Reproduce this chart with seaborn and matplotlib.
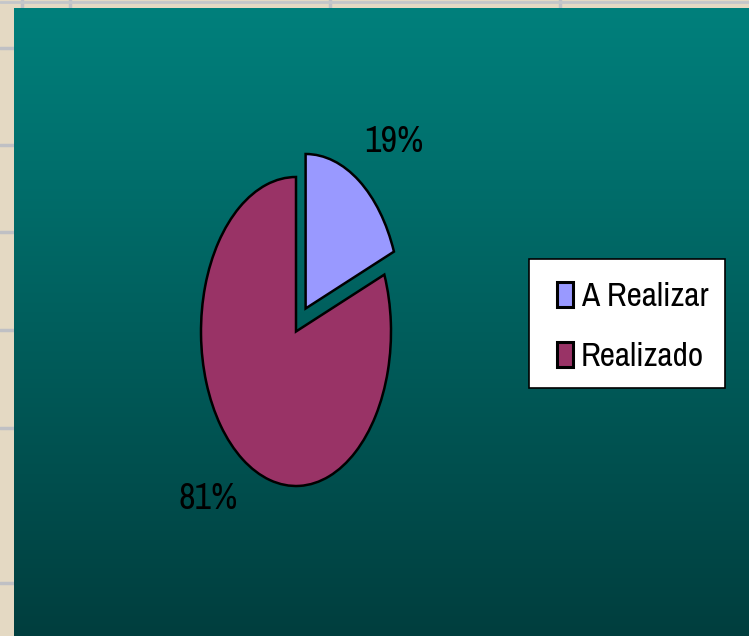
import numpy as np
import matplotlib
matplotlib.use("Agg")
import matplotlib.pyplot as plt
from matplotlib.patches import Rectangle
import seaborn as sns

categories = ["A Realizar", "Realizado"]
values = [19, 81]
pct_labels = ["19%", "81%"]
colors = ["#9999FF", "#993366"]

sns.set_theme(style="white")
plt.rcParams['font.family'] = ['Archivo Narrow', 'Roboto Condensed', 'Liberation Sans', 'DejaVu Sans']

W, H = 749, 636
fig = plt.figure(figsize=(W / 100, H / 100), dpi=100)
fig.patch.set_facecolor("#E4D9C3")

# textured border hints
bgb = fig.add_axes([0, 0, 1, 1])
bgb.set_xlim(0, W); bgb.set_ylim(H, 0); bgb.axis("off")
for yy in [48, 145, 232, 330, 428, 583]:
    bgb.plot([0, 14], [yy, yy], color="#BFC0C4", lw=2.5)
for xx in [22, 70, 330, 560]:
    bgb.plot([xx, xx], [0, 8], color="#BFC0C4", lw=2.5)
bgb.plot([0, W], [2, 2], color="#C4C6CA", lw=2)

# teal gradient panel
left_px, top_px = 14, 8
bg = fig.add_axes([left_px / W, 0, 1 - left_px / W, 1 - top_px / H])
grad = np.linspace(0, 1, 256).reshape(-1, 1)
top_c = np.array([0x00, 0x80, 0x7C]) / 255
bot_c = np.array([0x00, 0x3E, 0x3E]) / 255
img = top_c[None, None, :] * (1 - grad[..., None]) + bot_c[None, None, :] * grad[..., None]
bg.imshow(img, aspect="auto", extent=[0, 1, 0, 1])
bg.axis("off")

# pie axes: 1 data unit = 95 px horizontally, 154.5 px vertically
cx, cy, rx, ry = 296, 331.5, 95, 154.5
xl, yl = 2.0, 1.9
ax = fig.add_axes([(cx - xl * rx) / W, (H - (cy + yl * ry)) / H,
                   2 * xl * rx / W, 2 * yl * ry / H])

explode = [0.18, 0.0]
wedges, _ = ax.pie(values, colors=colors, explode=explode, startangle=90,
                   counterclock=False, radius=1.0,
                   wedgeprops=dict(edgecolor="black", linewidth=1.8),
                   frame=True)
ax.set_xlim(-xl, xl); ax.set_ylim(-yl, yl)
ax.set_aspect("auto")
ax.axis("off")

for w, lab, e in zip(wedges, pct_labels, explode):
    mid = np.deg2rad((w.theta1 + w.theta2) / 2)
    ox, oy = e * np.cos(mid), e * np.sin(mid)
    ax.text(ox + 1.65 * np.cos(mid), oy + 1.31 * np.sin(mid), lab,
            ha="center", va="center", fontsize=26, color="black")

# legend frame (white box with black edge)
box = Rectangle((529 / W, 1 - 388 / H), (725 - 529) / W, (388 - 259) / H,
                transform=fig.transFigure, facecolor="white",
                edgecolor="black", linewidth=1.2, zorder=4)
fig.patches.append(box)

leg = fig.legend(wedges, categories, loc="upper left",
                 bbox_to_anchor=(557 / W, 1 - 282 / H),
                 frameon=False, fontsize=24,
                 handlelength=0.48, handleheight=0.75,
                 handletextpad=0.24, labelspacing=0.9,
                 borderpad=0.0, borderaxespad=0.0)
leg.set_zorder(5)
for t in leg.get_texts():
    t.set_color("black")
for h in leg.legend_handles:
    h.set_linewidth(2.2)

fig.savefig("out.png", dpi=100)
